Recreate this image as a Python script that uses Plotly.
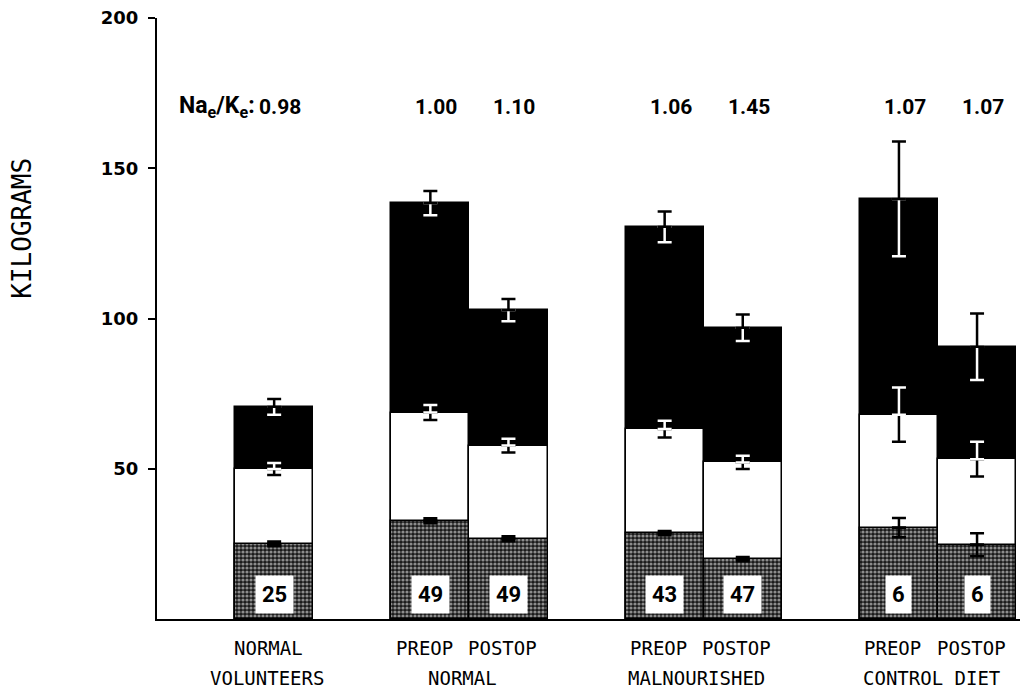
import plotly.graph_objects as go

# --- data -----------------------------------------------------------------
bar_labels = ["NORMAL", "PREOP", "POSTOP", "PREOP", "POSTOP", "PREOP", "POSTOP"]
bar_group = [0, 1, 1, 2, 2, 3, 3]
bar_slot = [1, 0, 1, 0, 1, 0, 1]
group_names = ["VOLUNTEERS", "NORMAL", "MALNOURISHED", "CONTROL DIET"]

# cumulative tops of the three stacked layers (kg)
lower_top = [25.0, 32.7, 26.7, 28.6, 19.9, 30.4, 24.7]
middle_top = [49.9, 68.7, 57.7, 63.2, 52.1, 68.0, 53.2]
total_top = [70.6, 138.4, 102.8, 130.5, 96.9, 139.8, 90.6]

# standard errors at each layer top
lower_sem = [0.8, 0.8, 0.8, 0.7, 0.7, 3.2, 3.8]
middle_sem = [2.0, 2.5, 2.3, 2.8, 2.2, 9.0, 5.8]
total_sem = [2.6, 4.0, 3.7, 5.1, 4.4, 19.1, 11.1]

n_subjects = [25, 49, 49, 43, 47, 6, 6]
na_k_ratio = ["0.98", "1.00", "1.10", "1.06", "1.45", "1.07", "1.07"]

y_ticks = [50, 100, 150, 200]

# --- layout helpers -------------------------------------------------------
x_pos = [3 * g + s - 1 for g, s in zip(bar_group, bar_slot)]
group_centers = []
for g in range(len(group_names)):
    xs = [x for x, gg in zip(x_pos, bar_group) if gg == g]
    group_centers.append(sum(xs) / len(xs))

BOLD_NARROW = "Roboto, Liberation Sans, sans-serif"
PLOTTER = "DejaVu Sans Mono, monospace"

fig = go.Figure()

# layers drawn back to front: full height (black), middle (white), lower (stippled)
fig.add_trace(go.Bar(
    x=x_pos, y=total_top, width=1.0,
    marker=dict(color="black", line=dict(color="black", width=1.5)),
    showlegend=False, hoverinfo="skip",
))
fig.add_trace(go.Bar(
    x=x_pos, y=middle_top, width=1.0,
    marker=dict(color="white", line=dict(color="black", width=1.5)),
    showlegend=False, hoverinfo="skip",
))
fig.add_trace(go.Bar(
    x=x_pos, y=lower_top, width=1.0,
    marker=dict(
        color="black",
        line=dict(color="black", width=1.5),
        pattern=dict(shape=".", fgcolor="white", bgcolor="#1a1a1a", size=4, solidity=0.5),
    ),
    showlegend=False, hoverinfo="skip",
))


def half_error(y, err, up, color):
    zeros = [0] * len(err)
    return go.Scatter(
        x=x_pos, y=y, mode="markers",
        marker=dict(size=1, color="rgba(0,0,0,0)"),
        error_y=dict(
            type="data", symmetric=False,
            array=err if up else zeros,
            arrayminus=zeros if up else err,
            color=color, thickness=2.5, width=7,
        ),
        showlegend=False, hoverinfo="skip",
    )


# error bars: each half takes the colour that contrasts with the layer it sits on
fig.add_trace(half_error(lower_top, lower_sem, False, "black"))
fig.add_trace(half_error(lower_top, lower_sem, True, "black"))
fig.add_trace(half_error(middle_top, middle_sem, False, "black"))
fig.add_trace(half_error(middle_top, middle_sem, True, "white"))
fig.add_trace(half_error(total_top, total_sem, False, "white"))
fig.add_trace(half_error(total_top, total_sem, True, "black"))

annotations = []

# sample sizes in white boxes at the foot of each bar
for x, n in zip(x_pos, n_subjects):
    annotations.append(dict(
        x=x, y=8, xref="x", yref="y", text=f"<b>{n}</b>", showarrow=False,
        font=dict(family=BOLD_NARROW, size=22, color="black"),
        bgcolor="white", borderpad=6, yanchor="middle",
    ))

# Na/K ratio row
for x, r in zip(x_pos, na_k_ratio):
    annotations.append(dict(
        x=x, y=170.5, xref="x", yref="y", text=f"<b>{r}</b>", showarrow=False,
        font=dict(family=BOLD_NARROW, size=21, color="black"),
        xshift=6, yanchor="middle",
    ))
annotations.append(dict(
    x=x_pos[0], y=170.5, xref="x", yref="y",
    text="<b>Na<sub>e</sub>/K<sub>e</sub>:</b>", showarrow=False,
    font=dict(family=BOLD_NARROW, size=23, color="black"),
    xanchor="right", xshift=-17, yanchor="middle",
))

# category labels under the axis
for x, lab in zip(x_pos, bar_labels):
    annotations.append(dict(
        x=x, y=0, xref="x", yref="y", text=lab, showarrow=False,
        font=dict(family=PLOTTER, size=19, color="black"),
        yanchor="middle", yshift=-29, xshift=-6,
    ))
for x, lab in zip(group_centers, group_names):
    annotations.append(dict(
        x=x, y=0, xref="x", yref="y", text=lab, showarrow=False,
        font=dict(family=PLOTTER, size=19, color="black"),
        yanchor="middle", yshift=-59, xshift=-7,
    ))

# axis title
annotations.append(dict(
    x=-0.156, y=130, xref="paper", yref="y", text="KILOGRAMS", showarrow=False,
    textangle=-90, font=dict(family=PLOTTER, size=26, color="black"),
    xanchor="center", yanchor="middle",
))

fig.update_layout(
    width=1026, height=694,
    margin=dict(l=157, r=6, t=18, b=75),
    paper_bgcolor="white", plot_bgcolor="white",
    barmode="overlay", bargap=0,
    annotations=annotations,
    xaxis=dict(
        range=[-1.5, 9.55], showgrid=False, zeroline=False,
        showline=True, linecolor="black", linewidth=2,
        showticklabels=False, ticks="",
    ),
    yaxis=dict(
        range=[0, 200], showgrid=False, zeroline=False,
        showline=True, linecolor="black", linewidth=2,
        tickvals=y_ticks, ticktext=[f"<b>{v}</b>" for v in y_ticks],
        ticks="outside", ticklen=7, tickwidth=2, tickcolor="black",
        ticklabelstandoff=6,
        tickfont=dict(family="DejaVu Sans, sans-serif", size=18, color="black"),
    ),
)

fig.write_html("out.html")
